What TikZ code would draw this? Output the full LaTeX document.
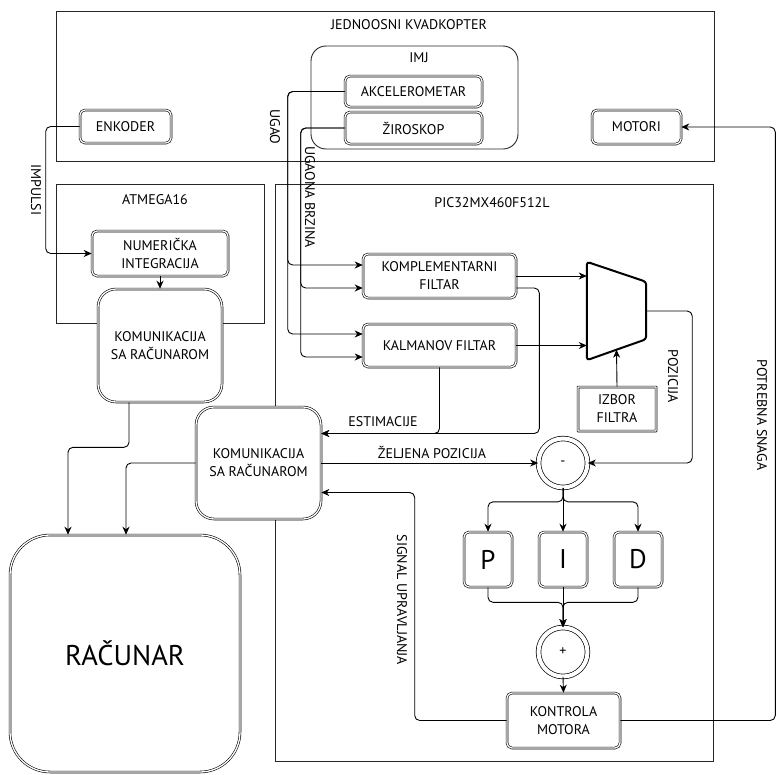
\documentclass[tikz,border=0pt]{standalone}
\usepackage{fontspec}
\setmainfont{PT Sans}
\usetikzlibrary{arrows.meta,calc}
\begin{document}
\begin{tikzpicture}[x=1pt,y=-1pt,
  every node/.style={font=\fontsize{14}{18}\selectfont},
  frame/.style={draw=black!85, line width=0.9pt},
  dbox/.style={draw, double, double distance=1.3pt, line width=0.6pt, rounded corners=5pt, fill=white, inner sep=0pt, align=center},
  sqbox/.style={draw, double, double distance=1.3pt, line width=0.6pt, rounded corners=0.2pt, fill=white, inner sep=0pt, align=center},
  bigbox/.style={dbox, rounded corners=18pt},
  dcirc/.style={circle, draw, double, double distance=4pt, line width=0.7pt, minimum size=49pt, inner sep=0pt},
  conn/.style={line width=0.9pt, rounded corners=5pt, -{Stealth[length=8pt,width=7pt,inset=2.5pt]}},
  vlab/.style={inner sep=0pt, rotate=-90}]
\useasboundingbox (0,0) rectangle (779,774);

% frames
\draw[frame] (56,11) rectangle (714,161);
\node at (409,25) {JEDNOOSNI KVADKOPTER};
\draw[frame, rounded corners=15pt] (311,46) rectangle (518,149);
\node at (419,58) {IMJ};
\draw[frame] (56,184) rectangle (264,323);
\node at (155,200) {ATMEGA16};
\draw[frame] (275,184) rectangle (713,761);
\node at (492,203) {PIC32MX460F512L};

% nodes
\node[dbox, minimum width=91pt, minimum height=33pt] (enk) at (125.5,126.5) {ENKODER};
\node[dbox, minimum width=137pt, minimum height=31pt] (akc) at (413.5,91.5) {AKCELEROMETAR};
\node[dbox, minimum width=137pt, minimum height=32pt] (zir) at (413.5,128) {ŽIROSKOP};
\node[dbox, minimum width=89pt, minimum height=34pt] (mot) at (636.5,127) {MOTORI};
\node[dbox, minimum width=136pt, minimum height=45pt] (num) at (160,253.5) {NUMERIČKA\\INTEGRACIJA};
\node[bigbox, minimum width=124pt, minimum height=113pt] (com1) at (160,345.5) {KOMUNIKACIJA\\SA RAČUNAROM};
\node[dbox, minimum width=153pt, minimum height=44pt] (komp) at (439.5,276) {KOMPLEMENTARNI\\FILTAR};
\node[dbox, minimum width=153pt, minimum height=43pt] (kalm) at (439.5,345.5) {KALMANOV FILTAR};
\node[bigbox, minimum width=125pt, minimum height=112pt] (com2) at (258.5,463) {KOMUNIKACIJA\\SA RAČUNAROM};
\node[dbox, rounded corners=40pt, minimum width=230pt, minimum height=237pt, font=\fontsize{28.5}{32}\selectfont] (rac) at (125,653.5) {RAČUNAR};
\node[sqbox, minimum width=78pt, minimum height=44pt] (izb) at (617,409) {IZBOR\\FILTRA};
\node[dcirc] (minus) at (563,463) {-};
\node[dbox, minimum width=48pt, minimum height=55pt, font=\fontsize{27}{30}\selectfont] (p) at (488,559.5) {P};
\node[dbox, minimum width=48pt, minimum height=55pt, font=\fontsize{27}{30}\selectfont] (i) at (563,559.5) {I};
\node[dbox, minimum width=48pt, minimum height=55pt, font=\fontsize{27}{30}\selectfont] (d) at (638,559.5) {D};
\node[dcirc] (plus) at (563,652) {+};
\node[dbox, minimum width=113pt, minimum height=55pt] (kont) at (563.5,720.5) {KONTROLA\\MOTORA};
\node[minimum width=59pt, minimum height=98pt, inner sep=0pt] (mux) at (616.5,311) {};
\draw[line width=2pt, rounded corners=3pt] (mux.north west) -- ($(mux.north east)+(0,20)$) -- ($(mux.south east)+(0,-21)$) -- (mux.south west) -- cycle;

% connectors
\draw[conn] (enk.west) -- ++(-34,0) |- (num.west);
\draw[conn] (num.south) -- (com1.north);
\draw[conn] (akc.west) -- ++(-57,0) |- ($(komp.west)+(0,-11)$);
\draw[conn] (akc.west) -- ++(-57,0) |- ($(kalm.west)+(0,-11.5)$);
\draw[conn] (zir.west) -- ++(-44,0) |- ($(komp.west)+(0,12)$);
\draw[conn] (zir.west) -- ++(-44,0) |- ($(kalm.west)+(0,11.5)$);
\draw[conn] (komp.east) -- (komp.east -| mux.west);
\draw[conn] (kalm.east) -- (kalm.east -| mux.west);
\draw[conn] (izb.north) -- ($(mux.south)+(0,-10.5)$);
\draw[conn] (mux.east) -- ++(46,0) |- (minus.east);
\draw[conn] ($(komp.east)+(0,12)$) -- ++(23,0) |- ($(com2.east)+(0,-29.5)$);
\draw[conn] (kalm.south) |- ($(com2.east)+(0,-29.5)$);
\draw[conn] (com2.east) -- (minus.west);
\draw[conn] (minus.south) -- (i.north);
\draw[conn] (minus.south) -- ++(0,14) -| (p.north);
\draw[conn] (minus.south) -- ++(0,14) -| (d.north);
\draw[conn] (p.south) -- ++(0,15) -| (plus.north);
\draw[conn] (d.south) -- ++(0,15) -| (plus.north);
\draw[conn] (i.south) -- (plus.north);
\draw[conn] (plus.south) -- (kont.north);
\draw[conn] (kont.west) -- ++(-92,0) |- ($(com2.east)+(0,29.5)$);
\draw[conn] (kont.east) -- ++(155,0) |- (mot.east);
\draw[conn] ($(com1.south)+(-31,0)$) -- ++(0,45) -| ($(rac.north)+(-57,0)$);
\draw[conn] (com2.west) -| ($(rac.north)+(1,0)$);

% labels
\node at (383,422) {ESTIMACIJE};
\node at (432,452) {ŽELJENA POZICIJA};
\node[vlab] at (673,376) {POZICIJA};
\node[vlab] at (402,600) {SIGNAL UPRAVLJANJA};
\node[vlab] at (762,415) {POTREBNA SNAGA};
\node[vlab] at (36,190) {IMPULSI};
\node[vlab] at (275,127) {UGAO};
\node[vlab] at (310,197) {UGAONA BRZINA};
\end{tikzpicture}
\end{document}
